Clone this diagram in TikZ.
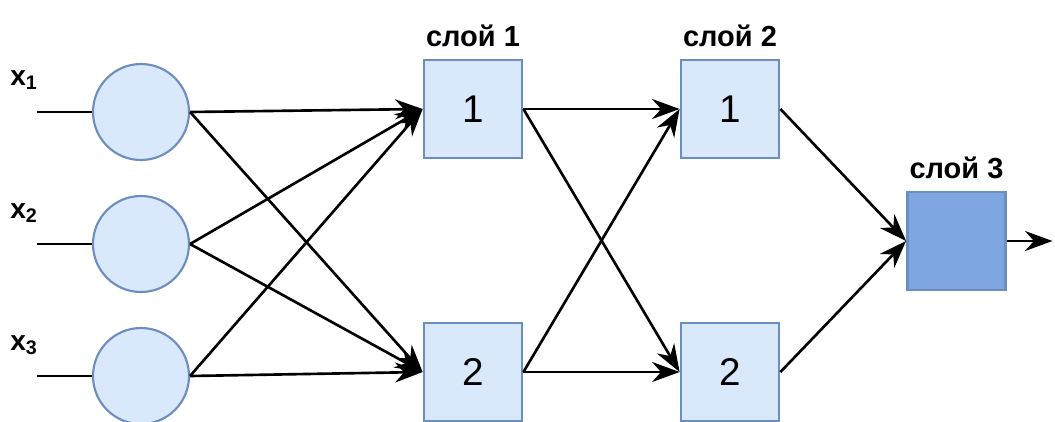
\documentclass[tikz,border=0pt]{standalone}
\usepackage{fontspec}
\setmainfont{Liberation Sans}
\usepackage{xcolor}
\definecolor{nodeblue}{RGB}{218,232,252}
\definecolor{edgeblue}{RGB}{108,142,191}
\definecolor{outblue}{RGB}{126,166,224}
\usepackage{tikz}
\usetikzlibrary{arrows.meta,positioning}

\begin{document}
\begin{tikzpicture}[node distance=0.22cm]
  \tikzstyle{neuron}=[circle,draw=edgeblue,line width=1.2pt,fill=nodeblue,minimum size=1.92cm,inner sep=0pt]
  \tikzstyle{unit}=[rectangle,draw=edgeblue,line width=1.6pt,fill=nodeblue,minimum size=1.96cm,inner sep=0pt,font=\fontsize{22}{24}\selectfont]
  \tikzstyle{outunit}=[unit,fill=outblue]
  \tikzstyle{layer}=[font=\fontsize{16.5}{18}\selectfont\bfseries,inner sep=0pt]
  \tikzstyle{inlabel}=[font=\fontsize{16}{18}\selectfont\bfseries,inner sep=0pt]
  \tikzstyle{link}=[-{Stealth[length=5.5mm,width=4mm]},line width=1.5pt]

  \useasboundingbox (0,0) rectangle (21.1,-8.42);

  % inputs
  \node[neuron] (in1) at (2.82,-2.24) {};
  \node[neuron] (in2) at (2.82,-4.88) {};
  \node[neuron] (in3) at (2.82,-7.52) {};
  \coordinate (s1) at (0.74,-2.24);
  \coordinate (s2) at (0.74,-4.88);
  \coordinate (s3) at (0.74,-7.52);
  \node[inlabel] (x1) at (0.48,-1.6) {x\textsubscript{1}};
  \node[inlabel] (x2) at (0.48,-4.26) {x\textsubscript{2}};
  \node[inlabel] (x3) at (0.48,-6.9) {x\textsubscript{3}};

  % layers
  \node[unit] (h11) at (9.46,-2.18) {1};
  \node[unit] (h12) at (9.46,-7.44) {2};
  \node[unit] (h21) at (14.6,-2.18) {1};
  \node[unit] (h22) at (14.6,-7.44) {2};
  \node[outunit] (out) at (19.13,-4.82) {};
  \coordinate (y) at (21.05,-4.82);

  \node[layer,above=of h11] (l1) {слой 1};
  \node[layer,above=of h21] (l2) {слой 2};
  \node[layer,above=of out] (l3) {слой 3};

  \draw[line width=1.5pt] (s1) -- (in1);
  \draw[line width=1.5pt] (s2) -- (in2);
  \draw[line width=1.5pt] (s3) -- (in3);

  \foreach \i in {1,2,3} {
    \draw[link] (in\i.east) -- (h11.west);
    \draw[link] (in\i.east) -- (h12.west);
  }
  \foreach \i in {1,2} {
    \draw[link] (h1\i.east) -- (h21.west);
    \draw[link] (h1\i.east) -- (h22.west);
    \draw[link] (h2\i.east) -- (out.west);
  }
  \draw[link] (out) -- (y);
\end{tikzpicture}
\end{document}
